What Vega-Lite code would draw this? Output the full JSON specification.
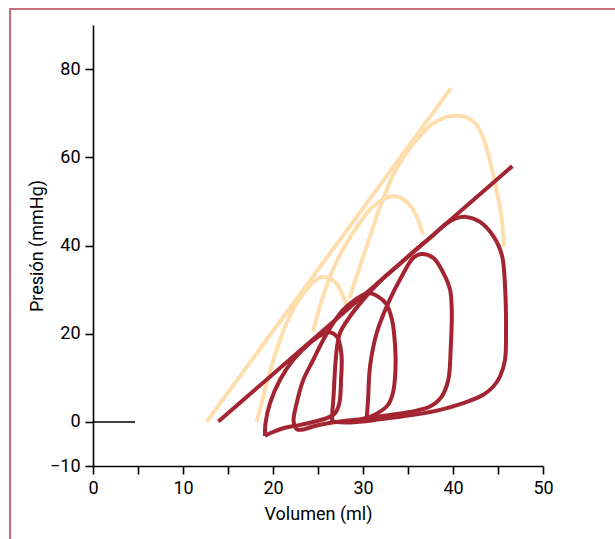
{
  "$schema": "https://vega.github.io/schema/vega-lite/v6.json",
  "width": 450,
  "height": 441,
  "autosize": {"type": "none"},
  "padding": {"left": 93, "top": 25, "right": 72, "bottom": 73},
  "background": "white",
  "config": {
    "view": {"stroke": null},
    "axis": {
      "grid": false,
      "domainColor": "#000000",
      "domainWidth": 1.6,
      "tickColor": "#000000",
      "tickWidth": 1.6,
      "tickSize": 8,
      "labelFont": "Roboto",
      "labelFontSize": 18,
      "labelColor": "#000000",
      "labelPadding": 5,
      "labelFlush": false,
      "labelOverlap": false,
      "labelBound": false,
      "titleFont": "Roboto",
      "titleFontSize": 18,
      "titleFontWeight": "normal",
      "titleColor": "#000000"
    }
  },
  "datasets": {
    "pv": [
      {"s": "ctrl_line", "i": 1, "v": 12.63, "p": 0.07},
      {"s": "ctrl_line", "i": 2, "v": 39.78, "p": 75.68},
      {"s": "ctrl_1", "i": 1, "v": 18.19, "p": 0.07},
      {"s": "ctrl_1", "i": 2, "v": 18.74, "p": 4.25},
      {"s": "ctrl_1", "i": 3, "v": 19.3, "p": 8.8},
      {"s": "ctrl_1", "i": 4, "v": 20.41, "p": 16.36},
      {"s": "ctrl_1", "i": 5, "v": 21.52, "p": 22.43},
      {"s": "ctrl_1", "i": 6, "v": 22.63, "p": 26.98},
      {"s": "ctrl_1", "i": 7, "v": 23.74, "p": 30.0},
      {"s": "ctrl_1", "i": 8, "v": 24.56, "p": 31.82},
      {"s": "ctrl_1", "i": 9, "v": 25.44, "p": 32.84},
      {"s": "ctrl_1", "i": 10, "v": 26.33, "p": 32.5},
      {"s": "ctrl_1", "i": 11, "v": 27.08, "p": 31.36},
      {"s": "ctrl_1", "i": 12, "v": 27.81, "p": 28.48},
      {"s": "ctrl_1", "i": 13, "v": 28.19, "p": 26.2},
      {"s": "ctrl_2", "i": 1, "v": 24.44, "p": 20.45},
      {"s": "ctrl_2", "i": 2, "v": 25.44, "p": 27.73},
      {"s": "ctrl_2", "i": 3, "v": 26.56, "p": 34.09},
      {"s": "ctrl_2", "i": 4, "v": 27.89, "p": 39.55},
      {"s": "ctrl_2", "i": 5, "v": 29.44, "p": 44.55},
      {"s": "ctrl_2", "i": 6, "v": 31.0, "p": 48.64},
      {"s": "ctrl_2", "i": 7, "v": 32.44, "p": 50.68},
      {"s": "ctrl_2", "i": 8, "v": 33.33, "p": 51.14},
      {"s": "ctrl_2", "i": 9, "v": 34.33, "p": 50.68},
      {"s": "ctrl_2", "i": 10, "v": 35.33, "p": 48.86},
      {"s": "ctrl_2", "i": 11, "v": 36.11, "p": 45.91},
      {"s": "ctrl_2", "i": 12, "v": 36.67, "p": 42.5},
      {"s": "ctrl_3", "i": 1, "v": 28.5, "p": 28.07},
      {"s": "ctrl_3", "i": 2, "v": 29.28, "p": 32.95},
      {"s": "ctrl_3", "i": 3, "v": 30.06, "p": 37.73},
      {"s": "ctrl_3", "i": 4, "v": 30.89, "p": 42.73},
      {"s": "ctrl_3", "i": 5, "v": 31.67, "p": 47.5},
      {"s": "ctrl_3", "i": 6, "v": 32.56, "p": 52.27},
      {"s": "ctrl_3", "i": 7, "v": 33.56, "p": 56.82},
      {"s": "ctrl_3", "i": 8, "v": 34.78, "p": 60.91},
      {"s": "ctrl_3", "i": 9, "v": 36.11, "p": 64.32},
      {"s": "ctrl_3", "i": 10, "v": 37.67, "p": 67.5},
      {"s": "ctrl_3", "i": 11, "v": 39.22, "p": 69.09},
      {"s": "ctrl_3", "i": 12, "v": 40.33, "p": 69.43},
      {"s": "ctrl_3", "i": 13, "v": 41.44, "p": 69.09},
      {"s": "ctrl_3", "i": 14, "v": 42.56, "p": 67.5},
      {"s": "ctrl_3", "i": 15, "v": 43.33, "p": 64.55},
      {"s": "ctrl_3", "i": 16, "v": 44.11, "p": 59.09},
      {"s": "ctrl_3", "i": 17, "v": 44.83, "p": 52.73},
      {"s": "ctrl_3", "i": 18, "v": 45.39, "p": 46.36},
      {"s": "ctrl_3", "i": 19, "v": 45.67, "p": 39.77},
      {"s": "occ_line", "i": 1, "v": 13.93, "p": 0.08},
      {"s": "occ_line", "i": 2, "v": 46.59, "p": 58.0},
      {"s": "occ_1", "i": 1, "v": 19.11, "p": -3.18},
      {"s": "occ_1", "i": 2, "v": 19.17, "p": -0.23},
      {"s": "occ_1", "i": 3, "v": 19.67, "p": 4.25},
      {"s": "occ_1", "i": 4, "v": 20.78, "p": 9.55},
      {"s": "occ_1", "i": 5, "v": 22.26, "p": 14.09},
      {"s": "occ_1", "i": 6, "v": 24.11, "p": 17.89},
      {"s": "occ_1", "i": 7, "v": 25.44, "p": 19.77},
      {"s": "occ_1", "i": 8, "v": 26.33, "p": 20.34},
      {"s": "occ_1", "i": 9, "v": 27.17, "p": 19.09},
      {"s": "occ_1", "i": 10, "v": 27.61, "p": 15.23},
      {"s": "occ_1", "i": 11, "v": 27.56, "p": 9.55},
      {"s": "occ_1", "i": 12, "v": 27.37, "p": 4.25},
      {"s": "occ_1", "i": 13, "v": 26.89, "p": 1.98},
      {"s": "occ_1", "i": 14, "v": 25.97, "p": 0.84},
      {"s": "occ_1", "i": 15, "v": 23.0, "p": -0.68},
      {"s": "occ_1", "i": 16, "v": 21.14, "p": -1.43},
      {"s": "occ_1", "i": 17, "v": 19.67, "p": -2.57},
      {"s": "occ_1", "i": 18, "v": 19.11, "p": -3.18},
      {"s": "occ_2", "i": 1, "v": 22.44, "p": -1.14},
      {"s": "occ_2", "i": 2, "v": 22.28, "p": 0.45},
      {"s": "occ_2", "i": 3, "v": 22.63, "p": 4.25},
      {"s": "occ_2", "i": 4, "v": 23.37, "p": 9.55},
      {"s": "occ_2", "i": 5, "v": 24.48, "p": 14.09},
      {"s": "occ_2", "i": 6, "v": 25.59, "p": 18.64},
      {"s": "occ_2", "i": 7, "v": 26.7, "p": 22.43},
      {"s": "occ_2", "i": 8, "v": 27.81, "p": 25.45},
      {"s": "occ_2", "i": 9, "v": 29.3, "p": 27.95},
      {"s": "occ_2", "i": 10, "v": 30.56, "p": 29.2},
      {"s": "occ_2", "i": 11, "v": 31.67, "p": 28.41},
      {"s": "occ_2", "i": 12, "v": 32.56, "p": 26.82},
      {"s": "occ_2", "i": 13, "v": 33.22, "p": 23.18},
      {"s": "occ_2", "i": 14, "v": 33.56, "p": 17.5},
      {"s": "occ_2", "i": 15, "v": 33.61, "p": 11.82},
      {"s": "occ_2", "i": 16, "v": 33.33, "p": 6.59},
      {"s": "occ_2", "i": 17, "v": 32.78, "p": 3.86},
      {"s": "occ_2", "i": 18, "v": 31.67, "p": 2.05},
      {"s": "occ_2", "i": 19, "v": 30.41, "p": 0.91},
      {"s": "occ_2", "i": 20, "v": 27.44, "p": 0.11},
      {"s": "occ_2", "i": 21, "v": 24.86, "p": -0.8},
      {"s": "occ_2", "i": 22, "v": 23.37, "p": -1.7},
      {"s": "occ_2", "i": 23, "v": 22.67, "p": -1.7},
      {"s": "occ_2", "i": 24, "v": 22.44, "p": -1.14},
      {"s": "occ_3", "i": 1, "v": 30.41, "p": 0.84},
      {"s": "occ_3", "i": 2, "v": 30.56, "p": 5.0},
      {"s": "occ_3", "i": 3, "v": 30.78, "p": 12.57},
      {"s": "occ_3", "i": 4, "v": 31.52, "p": 20.16},
      {"s": "occ_3", "i": 5, "v": 32.81, "p": 26.98},
      {"s": "occ_3", "i": 6, "v": 34.11, "p": 32.27},
      {"s": "occ_3", "i": 7, "v": 35.59, "p": 37.2},
      {"s": "occ_3", "i": 8, "v": 36.44, "p": 38.07},
      {"s": "occ_3", "i": 9, "v": 37.81, "p": 37.2},
      {"s": "occ_3", "i": 10, "v": 38.92, "p": 33.8},
      {"s": "occ_3", "i": 11, "v": 39.67, "p": 30.0},
      {"s": "occ_3", "i": 12, "v": 39.86, "p": 25.45},
      {"s": "occ_3", "i": 13, "v": 39.74, "p": 16.36},
      {"s": "occ_3", "i": 14, "v": 39.48, "p": 9.55},
      {"s": "occ_3", "i": 15, "v": 38.74, "p": 5.75},
      {"s": "occ_3", "i": 16, "v": 37.44, "p": 3.48},
      {"s": "occ_3", "i": 17, "v": 35.78, "p": 2.5},
      {"s": "occ_3", "i": 18, "v": 33.0, "p": 1.59},
      {"s": "occ_3", "i": 19, "v": 30.41, "p": 0.84},
      {"s": "occ_4", "i": 1, "v": 26.56, "p": 0.11},
      {"s": "occ_4", "i": 2, "v": 26.61, "p": 2.73},
      {"s": "occ_4", "i": 3, "v": 26.7, "p": 5.0},
      {"s": "occ_4", "i": 4, "v": 26.89, "p": 11.82},
      {"s": "occ_4", "i": 5, "v": 27.08, "p": 16.36},
      {"s": "occ_4", "i": 6, "v": 27.44, "p": 20.16},
      {"s": "occ_4", "i": 7, "v": 28.56, "p": 23.93},
      {"s": "occ_4", "i": 8, "v": 30.03, "p": 27.73},
      {"s": "occ_4", "i": 9, "v": 31.89, "p": 31.89},
      {"s": "occ_4", "i": 10, "v": 34.0, "p": 35.68},
      {"s": "occ_4", "i": 11, "v": 35.89, "p": 39.09},
      {"s": "occ_4", "i": 12, "v": 37.67, "p": 42.11},
      {"s": "occ_4", "i": 13, "v": 39.3, "p": 45.0},
      {"s": "occ_4", "i": 14, "v": 40.33, "p": 46.14},
      {"s": "occ_4", "i": 15, "v": 41.44, "p": 46.48},
      {"s": "occ_4", "i": 16, "v": 43.0, "p": 45.34},
      {"s": "occ_4", "i": 17, "v": 44.48, "p": 42.11},
      {"s": "occ_4", "i": 18, "v": 45.44, "p": 37.73},
      {"s": "occ_4", "i": 19, "v": 45.78, "p": 30.75},
      {"s": "occ_4", "i": 20, "v": 45.89, "p": 20.16},
      {"s": "occ_4", "i": 21, "v": 45.78, "p": 14.09},
      {"s": "occ_4", "i": 22, "v": 45.22, "p": 10.3},
      {"s": "occ_4", "i": 23, "v": 44.48, "p": 8.02},
      {"s": "occ_4", "i": 24, "v": 43.37, "p": 6.14},
      {"s": "occ_4", "i": 25, "v": 41.14, "p": 4.25},
      {"s": "occ_4", "i": 26, "v": 38.56, "p": 2.73},
      {"s": "occ_4", "i": 27, "v": 35.59, "p": 1.59},
      {"s": "occ_4", "i": 28, "v": 31.89, "p": 0.57},
      {"s": "occ_4", "i": 29, "v": 28.56, "p": -0.11},
      {"s": "occ_4", "i": 30, "v": 26.56, "p": 0.11}
    ]
  },
  "layer": [
    {
      "data": {"values": [{"k": "frame"}]},
      "mark": {"type": "rect", "fillOpacity": 0, "stroke": "#C8707A", "strokeWidth": 2, "clip": false},
      "encoding": {
        "x": {"datum": -9.22, "type": "quantitative", "scale": {"domain": [0, 50], "nice": false, "zero": false}},
        "x2": {"datum": 62},
        "y": {"datum": 93.64, "type": "quantitative", "scale": {"domain": [-10, 90], "nice": false, "zero": false}},
        "y2": {"datum": -30}
      }
    },
    {
      "data": {"values": [{"k": "zero"}]},
      "mark": {"type": "rule", "color": "#000000", "strokeWidth": 1.5},
      "encoding": {
        "x": {"datum": 0, "type": "quantitative"},
        "x2": {"datum": 4.67},
        "y": {"datum": 0, "type": "quantitative"}
      }
    },
    {
      "data": {"name": "pv"},
      "transform": [{"filter": "indexof(datum.s, 'ctrl') === 0"}],
      "mark": {"type": "line", "color": "#FFDEAD", "strokeWidth": 4, "interpolate": "catmull-rom", "strokeJoin": "round"},
      "encoding": {
        "x": {"field": "v", "type": "quantitative"},
        "y": {"field": "p", "type": "quantitative"},
        "detail": {"field": "s"},
        "order": {"field": "i", "type": "quantitative"}
      }
    },
    {
      "data": {"name": "pv"},
      "transform": [{"filter": "indexof(datum.s, 'occ') === 0"}],
      "mark": {"type": "line", "color": "#A22531", "strokeWidth": 4, "interpolate": "catmull-rom", "strokeJoin": "round"},
      "encoding": {
        "x": {
          "field": "v",
          "type": "quantitative",
          "axis": {
            "title": "Volumen (ml)",
            "values": [0, 5, 10, 15, 20, 25, 30, 35, 40, 45, 50],
            "labelExpr": "datum.value % 10 === 0 ? datum.label : ''",
            "titlePadding": 8
          }
        },
        "y": {
          "field": "p",
          "type": "quantitative",
          "axis": {
            "title": "Presión (mmHg)",
            "values": [-10, 0, 20, 40, 60, 80],
            "titlePadding": 3
          }
        },
        "detail": {"field": "s"},
        "order": {"field": "i", "type": "quantitative"}
      }
    }
  ]
}
